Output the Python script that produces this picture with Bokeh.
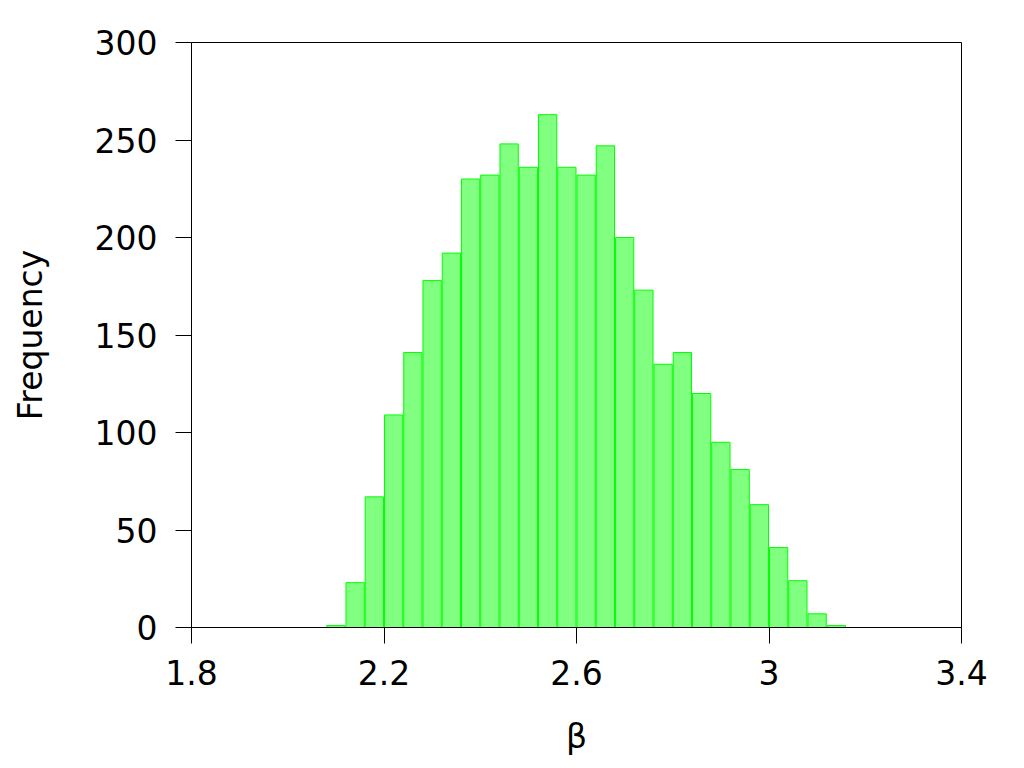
from bokeh.plotting import figure
from bokeh.models import Range1d, FixedTicker, CustomJSTickFormatter
from bokeh.embed import file_html
from bokeh.resources import INLINE

# Histogram data (bin left edges, bin width 0.04)
bin_left = [2.08, 2.12, 2.16, 2.20, 2.24, 2.28, 2.32, 2.36, 2.40, 2.44, 2.48, 2.52, 2.56, 2.60,
            2.64, 2.68, 2.72, 2.76, 2.80, 2.84, 2.88, 2.92, 2.96, 3.00, 3.04, 3.08, 3.12]
counts = [1, 23, 67, 109, 141, 178, 192, 230, 232, 248, 236, 263, 236, 232,
          247, 200, 173, 135, 141, 120, 95, 81, 63, 41, 24, 7, 1]
bin_width = 0.04
x_ticks = [1.8, 2.2, 2.6, 3.0, 3.4]
y_ticks = [0, 50, 100, 150, 200, 250, 300]

centers = [b + bin_width / 2 for b in bin_left]

FONT = "DejaVu Sans"

p = figure(width=1000, height=758, output_backend="svg", toolbar_location=None,
           x_range=Range1d(1.8, 3.4), y_range=Range1d(0, 300),
           min_border_left=191, min_border_right=39, min_border_top=42, min_border_bottom=130)

p.vbar(x=centers, top=counts, bottom=0, width=bin_width * 0.95,
       fill_color="#80ff80", line_color="#00ff00", line_width=1)

p.grid.visible = False
p.outline_line_color = "black"
p.outline_line_width = 1
p.outline_line_alpha = 1

for ax in (p.xaxis, p.yaxis):
    ax.major_tick_out = 16
    ax.major_tick_in = 0
    ax.minor_tick_line_color = None
    ax.axis_line_color = "black"
    ax.major_tick_line_color = "black"
    ax.major_label_text_font = FONT
    ax.major_label_text_font_size = "33px"
    ax.major_label_text_color = "black"
    ax.axis_label_text_font = FONT
    ax.axis_label_text_font_size = "33px"
    ax.axis_label_text_font_style = "normal"
    ax.axis_label_text_color = "black"

p.xaxis.ticker = FixedTicker(ticks=x_ticks)
p.yaxis.ticker = FixedTicker(ticks=y_ticks)
p.xaxis.formatter = CustomJSTickFormatter(code="return String(Math.round(tick*10)/10);")
p.xaxis.major_label_standoff = 16
p.yaxis.major_label_standoff = 18
p.xaxis.axis_label = "β"
p.yaxis.axis_label = "Frequency"
p.xaxis.axis_label_standoff = 29
p.yaxis.axis_label_standoff = 42

open("out.html", "w").write(file_html(p, INLINE))
